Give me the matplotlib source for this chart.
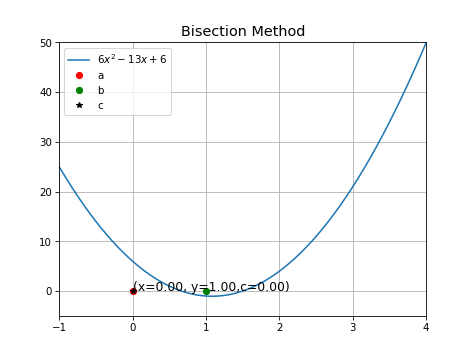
import numpy as np
import matplotlib.pyplot as plt

# Function f(x) = 6x^2 - 13x + 6, coefficients highest power first
coeffs = [6, -13, 6]
x_range = [-1, 4]

# bisection state shown in the chart
a_point = (0.0, 0.0)
b_point = (1.0, 0.0)
c_point = (0.0, 0.0)
label_text = '(x=0.00, y=1.00,c=0.00)'

x = np.linspace(x_range[0], x_range[1], 400)
y = np.polyval(coeffs, x)

plt.figure(figsize=(6.4, 4.8), dpi=74)
plt.plot(x, y, label=r'$6x^2-13x+6$')
plt.plot(a_point[0], a_point[1], 'ro', label='a')
plt.plot(b_point[0], b_point[1], 'go', label='b')
plt.plot(c_point[0], c_point[1], 'k*', label='c')
plt.text(c_point[0], c_point[1], label_text, fontsize=12)
plt.xlim(x_range)
plt.ylim(-5, 50)
plt.title('Bisection Method', fontsize=14)
plt.legend(loc='upper left')
plt.grid()
plt.savefig('out.png', dpi=74)
